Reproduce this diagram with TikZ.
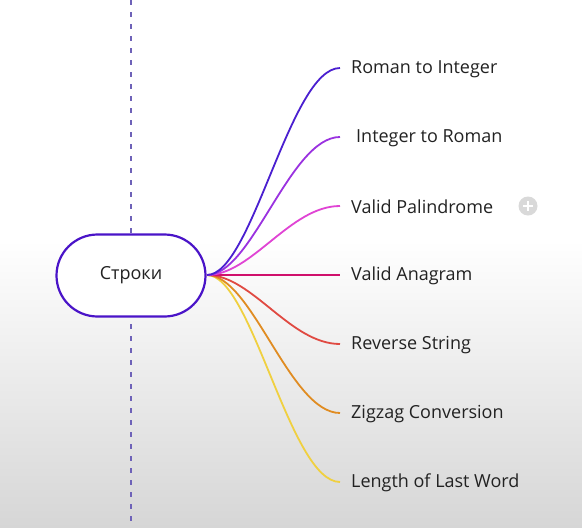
\documentclass[tikz,border=0pt]{standalone}
\usepackage{fontspec}
\setmainfont{Open Sans}
\usetikzlibrary{shapes.misc}
\definecolor{cRoman}{HTML}{4A1FD0}
\definecolor{cInt}{HTML}{9A32E0}
\definecolor{cPal}{HTML}{E044D4}
\definecolor{cAna}{HTML}{D0106C}
\definecolor{cRev}{HTML}{E04A42}
\definecolor{cZig}{HTML}{E08C22}
\definecolor{cLen}{HTML}{F0D040}
\definecolor{cDash}{HTML}{6E62B8}
\definecolor{cMain}{HTML}{4A14C8}
\definecolor{cTxt}{HTML}{222222}
\definecolor{cBg}{HTML}{D6D6D6}
\begin{document}
\begin{tikzpicture}[x=1pt,y=-1pt,
  lbl/.style={anchor=west,inner sep=0pt,font=\fontsize{18}{21}\selectfont,text=cTxt},
  branch/.style={line width=1.8pt}]
\useasboundingbox (0,0) rectangle (582,528);
\fill[white] (0,0) rectangle (582,240);
\shade[top color=white,bottom color=cBg] (0,240) rectangle (582,528);
\draw[cDash,line width=1.6pt,dash pattern=on 5pt off 7pt] (131,0) -- (131,528);
\node[rounded rectangle,draw=cMain,line width=2.2pt,fill=white,minimum width=149pt,minimum height=82pt,inner sep=0pt,text=cTxt,font=\fontsize{18}{21}\selectfont] (root) at (131,275.5) {Строки};
\coordinate (s) at (207,275);
\coordinate (e1) at (340,68);
\coordinate (e2) at (340,137);
\coordinate (e3) at (340,206);
\coordinate (e4) at (340,275);
\coordinate (e5) at (340,344);
\coordinate (e6) at (340,413);
\coordinate (e7) at (340,482);
\draw[branch,cLen] (s) .. controls +(45,0) and +(-50,0) .. (e7);
\draw[branch,cZig] (s) .. controls +(45,0) and +(-50,0) .. (e6);
\draw[branch,cRev] (s) .. controls +(45,0) and +(-50,0) .. (e5);
\draw[branch,cAna] (s) -- (e4);
\draw[branch,cPal] (s) .. controls +(45,0) and +(-50,0) .. (e3);
\draw[branch,cInt] (s) .. controls +(45,0) and +(-50,0) .. (e2);
\draw[branch,cRoman] (s) .. controls +(45,0) and +(-50,0) .. (e1);
\node[lbl] (l1) at (351,69) {Roman to Integer};
\node[lbl] (l2) at (356,138) {Integer to Roman};
\node[lbl] (l3) at (351,207) {Valid Palindrome};
\node[lbl] (l4) at (351,276) {Valid Anagram};
\node[lbl] (l5) at (351,345) {Reverse String};
\node[lbl] (l6) at (351,414) {Zigzag Conversion};
\node[lbl] (l7) at (351,483) {Length of Last Word};
\node[circle,fill=black!15,minimum size=19pt,inner sep=0pt] (plus) at (528,206) {};
\draw[white,line width=1.6pt] ([xshift=-5pt]plus.center) -- ([xshift=5pt]plus.center) ([yshift=-5pt]plus.center) -- ([yshift=5pt]plus.center);
\end{tikzpicture}
\end{document}
